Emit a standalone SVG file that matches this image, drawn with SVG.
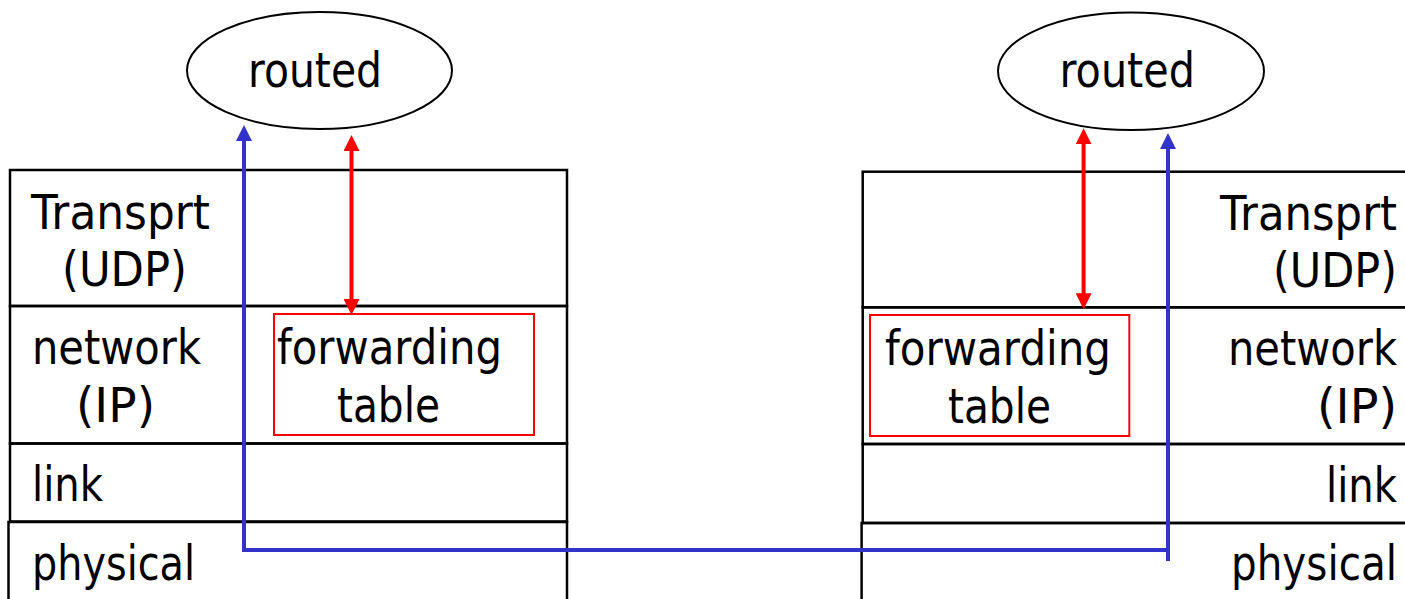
<svg xmlns="http://www.w3.org/2000/svg" width="1405" height="599" viewBox="0 0 1405 599">
<defs>
<style>
.bg{fill:#ffffff}
.box{fill:none;stroke:#000;stroke-width:2.5}
.ell{fill:#fff;stroke:#000;stroke-width:2}
.ft{fill:none;stroke:#ff0000;stroke-width:2}
.t{font-family:"DejaVu Sans","Liberation Sans",sans-serif;font-size:48px;fill:#000}
.e{text-anchor:end}
.red{fill:none;stroke:#ff0000;stroke-width:4}
.blue{fill:none;stroke:#3333cc;stroke-width:4}
</style>
<marker id="ar" markerUnits="userSpaceOnUse" markerWidth="16" markerHeight="16" viewBox="0 0 16 16" refX="6" refY="8" orient="auto-start-reverse">
<path d="M0,0 L16,8 L0,16 z" fill="#ff0000"/>
</marker>
<marker id="ab" markerUnits="userSpaceOnUse" markerWidth="16" markerHeight="16" viewBox="0 0 16 16" refX="6" refY="8" orient="auto-start-reverse">
<path d="M0,0 L16,8 L0,16 z" fill="#3333cc"/>
</marker>
</defs>
<rect class="bg" x="0" y="0" width="1405" height="599"/>

<g id="left-stack">
<rect class="box" x="10" y="170" width="557" height="136"/>
<rect class="box" x="10" y="306" width="557" height="137.5"/>
<rect class="box" x="10" y="443.5" width="557" height="78"/>
<rect class="box" x="8.5" y="522" width="558.5" height="90"/>
<text class="t" x="31" y="229" textLength="179" lengthAdjust="spacingAndGlyphs">Transprt</text>
<text class="t" x="62" y="286" textLength="125" lengthAdjust="spacingAndGlyphs">(UDP)</text>
<text class="t" x="32" y="364" textLength="169" lengthAdjust="spacingAndGlyphs">network</text>
<text class="t" x="76" y="422" textLength="79" lengthAdjust="spacingAndGlyphs">(IP)</text>
<text class="t" x="32" y="501" textLength="71" lengthAdjust="spacingAndGlyphs">link</text>
<text class="t" x="32" y="580" textLength="163" lengthAdjust="spacingAndGlyphs">physical</text>
</g>

<g id="left-forwarding-table">
<rect class="ft" x="274" y="314" width="260" height="121"/>
<text class="t" x="277" y="364" textLength="225" lengthAdjust="spacingAndGlyphs">forwarding</text>
<text class="t" x="337" y="422" textLength="103" lengthAdjust="spacingAndGlyphs">table</text>
</g>

<g id="left-routed">
<ellipse class="ell" cx="319.5" cy="70.5" rx="132.5" ry="58.5"/>
<text class="t" x="248" y="87" textLength="134" lengthAdjust="spacingAndGlyphs">routed</text>
</g>

<g id="right-stack">
<rect class="box" x="862.7" y="171.7" width="560" height="135.6"/>
<rect class="box" x="862.7" y="307.3" width="560" height="136.7"/>
<rect class="box" x="862.7" y="444" width="560" height="79"/>
<rect class="box" x="861.6" y="523" width="561" height="90"/>
<text class="t e" x="1397" y="230" textLength="177" lengthAdjust="spacingAndGlyphs">Transprt</text>
<text class="t e" x="1397" y="287" textLength="124" lengthAdjust="spacingAndGlyphs">(UDP)</text>
<text class="t e" x="1397" y="365" textLength="169" lengthAdjust="spacingAndGlyphs">network</text>
<text class="t e" x="1397" y="423" textLength="80" lengthAdjust="spacingAndGlyphs">(IP)</text>
<text class="t e" x="1397" y="502" textLength="71" lengthAdjust="spacingAndGlyphs">link</text>
<text class="t e" x="1397" y="580" textLength="166" lengthAdjust="spacingAndGlyphs">physical</text>
</g>

<g id="right-forwarding-table">
<rect class="ft" x="870" y="315" width="259.3" height="121"/>
<text class="t" x="885" y="365" textLength="226" lengthAdjust="spacingAndGlyphs">forwarding</text>
<text class="t" x="948" y="423" textLength="103" lengthAdjust="spacingAndGlyphs">table</text>
</g>

<g id="right-routed">
<ellipse class="ell" cx="1131" cy="71.3" rx="133" ry="58.7"/>
<text class="t" x="1059.5" y="87" textLength="135.5" lengthAdjust="spacingAndGlyphs">routed</text>
</g>

<g id="connectors">
<path class="red" d="M351.5,145 L351.5,305" marker-start="url(#ar)" marker-end="url(#ar)"/>
<path class="red" d="M1083.6,138.3 L1083.6,299.3" marker-start="url(#ar)" marker-end="url(#ar)"/>
<path class="blue" d="M244,135 L244,550 L1168,550" marker-start="url(#ab)"/>
<path class="blue" d="M1168,561 L1168,143" marker-end="url(#ab)"/>
</g>
</svg>
